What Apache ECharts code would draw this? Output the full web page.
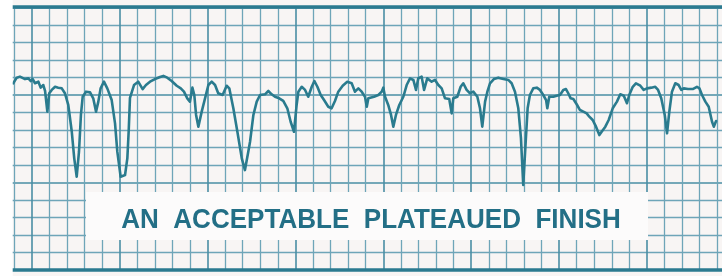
<!DOCTYPE html>
<html>
<head>
<meta charset="utf-8">
<script src="https://cdn.jsdelivr.net/npm/echarts@6/dist/echarts.min.js"></script>
<style>html,body{margin:0;padding:0;background:#ffffff;}#c{width:722px;height:276px;}</style>
</head>
<body>
<div id="c"></div>
<script>
// Chart caption
const caption = 'AN  ACCEPTABLE  PLATEAUED  FINISH';

// Time axis position of each trace sample (chart-paper divisions)
const timeDiv = [
-1.05,-0.85,-0.67,-0.38,-0.19,-0.06,0.06,0.19,0.38,0.51,0.66,0.76,0.89,1.00,1.14,1.33,1.51,1.71,1.89,2.08,
2.28,2.42,2.56,2.69,2.80,2.90,3.09,3.32,3.50,3.66,3.79,3.92,4.11,4.30,4.55,4.74,4.87,5.06,5.31,5.44,
5.52,5.59,5.82,6.06,6.31,6.50,6.73,7.01,7.30,7.49,7.71,7.96,8.25,8.48,8.66,8.85,9.00,9.14,9.25,9.35,
9.48,9.67,9.86,10.05,10.24,10.43,10.61,10.86,11.09,11.24,11.47,11.70,11.95,12.13,12.32,12.42,12.61,12.80,12.99,13.27,
13.46,13.65,13.84,14.08,14.31,14.54,14.73,14.92,15.07,15.17,15.36,15.55,15.73,15.93,16.08,16.25,16.44,16.63,16.87,17.06,
17.25,17.44,17.69,17.95,18.20,18.39,18.58,18.77,18.96,19.06,19.15,19.24,19.47,19.72,19.91,20.00,20.10,20.28,20.44,20.57,
20.72,20.91,21.14,21.33,21.52,21.71,21.86,21.99,22.18,22.32,22.50,22.75,22.94,23.13,23.32,23.51,23.75,23.89,23.98,24.21,
24.40,24.55,24.74,24.93,25.12,25.35,25.50,25.63,25.79,25.92,26.07,26.29,26.54,26.83,27.11,27.30,27.49,27.68,27.83,27.96,
28.10,28.21,28.34,28.53,28.73,28.91,29.10,29.26,29.33,29.44,29.67,29.86,30.05,30.24,30.39,30.52,30.66,30.81,31.00,31.19,
31.38,31.57,31.72,31.91,32.10,32.29,32.42,32.63,32.82,33.05,33.29,33.48,33.68,33.86,33.99,34.19,34.37,34.62,34.81,35.00,
35.25,35.47,35.63,35.81,36.01,36.14,36.27,36.42,36.61,36.80,36.95,37.09,37.33,37.60,37.84,37.98,38.13,38.32,38.51,38.70,
38.80,38.93
];

// Pen position of each trace sample (chart-paper divisions above the bottom border)
const penDiv = [
10.67,10.99,11.05,10.91,10.95,10.80,10.91,10.67,10.76,10.42,10.57,10.23,9.05,10.10,10.29,10.47,10.42,10.38,10.10,9.43,
7.90,6.38,5.33,6.76,8.86,9.90,10.19,10.15,9.81,9.05,9.62,10.38,10.76,10.38,9.71,8.38,6.76,5.33,5.43,6.38,
8.00,9.83,10.57,10.76,10.34,10.57,10.76,10.91,11.03,11.09,10.99,10.80,10.53,10.38,10.19,9.81,9.62,10.42,10.00,8.86,
8.19,9.05,9.81,10.57,10.76,10.57,10.10,10.00,10.53,10.38,9.24,7.90,6.38,5.71,6.76,7.33,8.86,9.62,10.00,10.04,
10.23,10.04,9.90,9.81,9.66,9.24,8.47,7.90,9.43,10.19,10.47,10.29,9.90,10.47,10.80,10.47,10.00,9.71,9.33,9.24,
9.66,10.19,10.53,10.76,10.67,10.19,10.38,10.19,9.90,9.33,9.81,9.90,9.90,10.00,10.19,10.42,9.90,9.43,8.86,8.19,
8.86,9.43,9.90,10.57,10.95,10.86,10.29,10.95,11.05,10.29,10.95,10.76,10.86,10.57,10.38,9.81,9.77,8.95,9.81,9.90,
10.47,10.67,10.29,10.10,10.19,9.90,9.24,8.19,9.62,10.19,10.67,10.91,10.99,10.91,10.86,10.67,10.19,9.24,7.53,4.86,
7.33,9.24,10.00,10.38,10.42,10.29,10.00,9.71,9.24,9.90,9.90,9.96,10.00,10.29,10.34,10.10,9.81,9.77,9.47,9.14,
9.05,8.95,8.76,8.57,8.19,7.71,7.90,8.19,8.57,9.24,9.62,10.04,9.96,9.53,10.00,10.47,10.67,10.53,10.29,10.38,
10.42,10.47,10.29,9.81,8.86,7.81,9.05,10.19,10.67,10.57,10.29,10.38,10.34,10.34,10.47,10.38,10.00,9.62,9.33,8.47,
8.19,8.51
];

const trace = timeDiv.map((t, i) => [t, penDiv[i]]);

const chart = echarts.init(document.getElementById('c'), null, {renderer: 'canvas'});

const minorGrid = {show: true, lineStyle: {color: '#6ea5b8', width: 1.3}};
const majorGrid = {show: true, lineStyle: {color: '#4a8ea4', width: 1.6}};

chart.setOption({
  animation: false,
  backgroundColor: '#f8f5f4',
  grid: {left: -56.2, top: 7.5, width: 791.1, height: 262.5, containLabel: false, outerBoundsMode: 'none'},
  xAxis: [
    {
      type: 'value', min: -5, max: 40, interval: 5, position: 'bottom', offset: 3,
      axisLine: {show: true, lineStyle: {color: '#2b7a90', width: 3.5}},
      axisTick: {show: false}, axisLabel: {show: false},
      splitLine: majorGrid,
      minorTick: {show: false, splitNumber: 5},
      minorSplitLine: minorGrid
    },
    {
      type: 'value', min: -5, max: 40, interval: 5, position: 'top', offset: 1,
      axisLine: {show: true, lineStyle: {color: '#2b7a90', width: 3.5}},
      axisTick: {show: false}, axisLabel: {show: false},
      splitLine: {show: false}
    }
  ],
  yAxis: {
    type: 'value', min: 0, max: 15, interval: 5,
    axisLine: {show: false}, axisTick: {show: false}, axisLabel: {show: false},
    splitLine: majorGrid,
    minorTick: {show: false, splitNumber: 5},
    minorSplitLine: minorGrid
  },
  series: [{
    type: 'line',
    data: trace,
    xAxisIndex: 0,
    showSymbol: false,
    smooth: false,
    z: 5,
    lineStyle: {color: '#2a7b8e', width: 2.6, join: 'round', cap: 'round'}
  }],
  graphic: [
    {type: 'rect', z: 100, shape: {x: 0, y: 0, width: 12.7, height: 276}, style: {fill: '#ffffff'}},
    {type: 'rect', z: 50, shape: {x: 86, y: 192, width: 562, height: 48}, style: {fill: '#fcfbfb'}},
    {type: 'text', z: 60, x: 371, y: 220, scaleX: 0.93,
     style: {text: caption, fill: '#236f86', font: 'bold 28px "Liberation Sans", Arial, sans-serif',
             textAlign: 'center', textVerticalAlign: 'middle'}}
  ]
});
</script>
</body>
</html>
